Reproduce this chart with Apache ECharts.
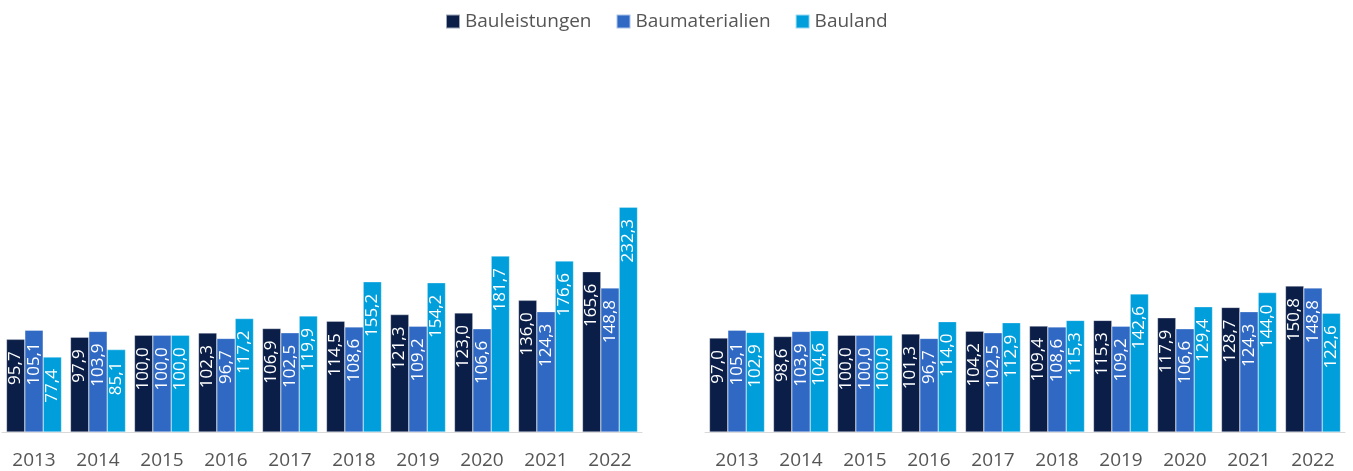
<!DOCTYPE html>
<html>
<head>
<meta charset="utf-8">
<script src="https://cdn.jsdelivr.net/npm/echarts@6/dist/echarts.min.js"></script>
<style>
html, body { margin: 0; padding: 0; background: #fff; }
#main { width: 1353px; height: 471px; }
</style>
</head>
<body>
<div id="main"></div>
<script>
var years = ['2013', '2014', '2015', '2016', '2017', '2018', '2019', '2020', '2021', '2022'];
var seriesNames = ['Bauleistungen', 'Baumaterialien', 'Bauland'];

// left panel
var leftLeistungen = [95.7, 97.9, 100.0, 102.3, 106.9, 114.5, 121.3, 123.0, 136.0, 165.6];
var leftMaterialien = [105.1, 103.9, 100.0, 96.7, 102.5, 108.6, 109.2, 106.6, 124.3, 148.8];
var leftLand = [77.4, 85.1, 100.0, 117.2, 119.9, 155.2, 154.2, 181.7, 176.6, 232.3];

// right panel
var rightLeistungen = [97.0, 98.6, 100.0, 101.3, 104.2, 109.4, 115.3, 117.9, 128.7, 150.8];
var rightMaterialien = [105.1, 103.9, 100.0, 96.7, 102.5, 108.6, 109.2, 106.6, 124.3, 148.8];
var rightLand = [102.9, 104.6, 100.0, 114.0, 112.9, 115.3, 142.6, 129.4, 144.0, 122.6];

var colors = ['#0b1e48', '#2f69c4', '#009fdc'];
var font = 'Open Sans';

var myChart = echarts.init(document.getElementById('main'));

function bar(name, data, idx, color) {
    return {
        name: name,
        type: 'bar',
        xAxisIndex: idx,
        yAxisIndex: idx,
        data: data,
        barGap: '0%',
        barCategoryGap: '14%',
        itemStyle: { color: color, borderColor: 'rgba(255,255,255,0.6)', borderWidth: 0.5 },
        label: {
            show: true,
            position: 'insideTop',
            rotate: 90,
            align: 'right',
            verticalAlign: 'middle',
            distance: 12,
            color: '#ffffff',
            fontFamily: font,
            fontSize: 17,
            formatter: function (p) { return p.value.toFixed(1).replace('.', ','); }
        }
    };
}

function xAxis(idx) {
    return {
        type: 'category',
        gridIndex: idx,
        data: years,
        axisTick: { show: false },
        axisLine: { lineStyle: { color: '#d9d9d9', width: 1 } },
        axisLabel: { color: '#555555', fontFamily: font, fontSize: 19, margin: 19 }
    };
}

function yAxis(idx) {
    return {
        type: 'value',
        gridIndex: idx,
        min: 0,
        max: 250,
        show: false,
        splitLine: { show: false }
    };
}

var option = {
    animation: false,
    color: colors,
    legend: {
        top: 7,
        left: 440,
        itemWidth: 14,
        itemHeight: 14,
        itemGap: 24,
        icon: 'rect',
        textStyle: { color: '#555555', fontFamily: font, fontSize: 19 },
        data: seriesNames
    },
    grid: [
        { left: 2, width: 640, top: 190, bottom: 39 },
        { left: 705, width: 640, top: 190, bottom: 39 }
    ],
    xAxis: [xAxis(0), xAxis(1)],
    yAxis: [yAxis(0), yAxis(1)],
    series: [
        bar(seriesNames[0], leftLeistungen, 0, colors[0]),
        bar(seriesNames[1], leftMaterialien, 0, colors[1]),
        bar(seriesNames[2], leftLand, 0, colors[2]),
        bar(seriesNames[0], rightLeistungen, 1, colors[0]),
        bar(seriesNames[1], rightMaterialien, 1, colors[1]),
        bar(seriesNames[2], rightLand, 1, colors[2])
    ]
};

myChart.setOption(option);
</script>
</body>
</html>
